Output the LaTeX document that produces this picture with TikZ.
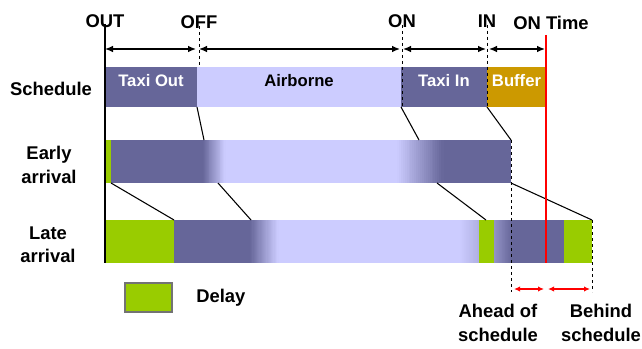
\documentclass[tikz,border=0pt]{standalone}
\usepackage{fontspec}
\setmainfont{Liberation Sans}
\usetikzlibrary{arrows.meta,fit}
\definecolor{taxiblue}{RGB}{102,102,153}
\definecolor{airlilac}{RGB}{204,204,255}
\definecolor{bufferamber}{RGB}{204,153,0}
\definecolor{delaygreen}{RGB}{153,204,0}
\definecolor{ontimered}{RGB}{255,0,0}
\colorlet{airdusk}{airlilac!72!taxiblue}
\colorlet{taxidusk}{airlilac!45!taxiblue}
% blend strip: x from, x to, y top, y bottom, colour from, colour to
\newcommand{\blendstrip}[6]{%
  \foreach \k in {0,...,23}{
    \pgfmathsetmacro{\xa}{#1+(#2-#1)*\k/24}
    \pgfmathsetmacro{\xb}{#1+(#2-#1)*(\k+1)/24+0.6}
    \pgfmathsetmacro{\pc}{100-(\k+0.5)*100/24}
    \fill[#5!\pc!#6] (\xa,#3) rectangle (\xb,#4);
  }}
\begin{document}
\begin{tikzpicture}[x=0.75pt,y=0.75pt,yscale=-1,xscale=1,
  lbl/.style={font=\bfseries\fontsize{13.8}{17.5}\selectfont,align=center,inner sep=0},
  seg/.style={inner sep=0,outer sep=0,font=\bfseries\fontsize{12.5}{15}\selectfont},
  span/.style={{Latex[length=6pt,width=5pt]}-{Latex[length=6pt,width=5pt]},line width=1pt},
  redspan/.style={{Latex[length=4.5pt,width=4pt]}-{Latex[length=4.5pt,width=4pt]},ontimered,line width=0.9pt},
  guide/.style={dashed,dash pattern=on 2.5pt off 2pt,line width=0.7pt},
  link/.style={line width=0.8pt}]
\useasboundingbox (0,0) rectangle (642,349);

% Text Node
\node[lbl] (out) at (105,21) {OUT};
\node[lbl] (off) at (199,22) {OFF};
\node[lbl] (on) at (402,21) {ON};
\node[lbl] (in) at (487,21) {IN};
\node[lbl] (ontime) at (551,23) {ON Time};
\node[lbl] (schedrow) at (51,89) {Schedule};
\node[lbl] (earlyrow) at (49,165) {Early\\arrival};
\node[lbl] (laterow) at (48,245) {Late\\arrival};

%Shape: Schedule bar
\node[seg,fill=taxiblue,text=white,fit={(105,67) (197,107)}] (taxiout) {Taxi Out};
\node[seg,fill=airlilac,fit={(197,67) (401,107)}] (airborne) {Airborne};
\node[seg,fill=taxiblue,text=white,fit={(401,67) (487,107)}] (taxiin) {Taxi In};
\node[seg,fill=bufferamber,text=white,fit={(487,67) (546,107)}] (buffer) {Buffer};

%Shape: Early arrival bar
\node[seg,fill=taxiblue,fit={(105,140) (511,183)}] (early) {};
\fill[delaygreen] (105,140) rectangle (111,183);
\fill[airlilac] (224,140) rectangle (398,183);
\blendstrip{203}{225}{140}{183}{taxiblue}{airlilac}
\blendstrip{397}{443}{140}{183}{airlilac}{taxiblue}

%Shape: Late arrival bar
\node[seg,fill=taxiblue,fit={(105,220) (592,263)}] (late) {};
\fill[delaygreen] (105,220) rectangle (174,263);
\fill[airlilac] (277,220) rectangle (461,263);
\blendstrip{250}{278}{220}{263}{taxiblue}{airlilac}
\blendstrip{460}{479}{220}{263}{airlilac}{airdusk}
\blendstrip{494}{512}{220}{263}{taxidusk}{taxiblue}
\fill[delaygreen] (479,220) rectangle (494,263);
\fill[delaygreen] (564,220) rectangle (592,263);

% link points
\coordinate (e0) at (111,183);
\coordinate (e1) at (204,140);
\coordinate (e2) at (218,183);
\coordinate (e3) at (419,140);
\coordinate (e4) at (437,183);
\coordinate (l1) at (174,220);
\coordinate (l2) at (251,220);
\coordinate (l3) at (486,220);

%Straight Lines
\draw[line width=1pt] (out.south) ++(0,-4) -- (out.south |- late.south);
\draw[guide] (off.south) ++(0,-3) -- (off.south |- taxiout.north);
\draw[guide] (on.south) ++(0,-3) -- (on.south |- taxiin.south);
\draw[guide] (in.south) ++(0,-3) -- (in.south |- taxiin.south);
\draw[guide] (early.north east) -- ++(0,152) coordinate (aheadend);
\draw[guide] (late.north east) -- ++(0,72) coordinate (behindend);

%Straight Lines: links between rows
\draw[link] (taxiout.south east) -- (e1);
\draw[link] (e0) -- (l1);
\draw[link] (e2) -- (l2);
\draw[link] (taxiin.south west) -- (e3);
\draw[link] (taxiin.south east) -- (early.north east);
\draw[link] (e4) -- (l3);
\draw[link] (early.south east) -- (late.north east);

% on time line
\draw[ontimered,line width=1.5pt] (buffer.north east) ++(0,-32) -- (buffer.east |- late.south);

%Straight Lines: spans
\draw[span] (105,49) -- (196,49);
\draw[span] (199,49) -- (400,49);
\draw[span] (403,49) -- (486,49);
\draw[span] (489,49) -- (545,49);

\draw[redspan] (514,289) -- (544,289);
\draw[redspan] (548,289) -- (590,289);

%Shape: legend
\node[seg,fill=delaygreen,draw=black!55,line width=0.8pt,fit={(125,283) (172,312)}] (legend) {};
\node[lbl,anchor=west] (delay) at (196,298) {Delay};

% Text Node
\node[lbl] (ahead) at (498,323) {Ahead of\\schedule};
\node[lbl] (behind) at (601,323) {Behind\\schedule};

\end{tikzpicture}
\end{document}
